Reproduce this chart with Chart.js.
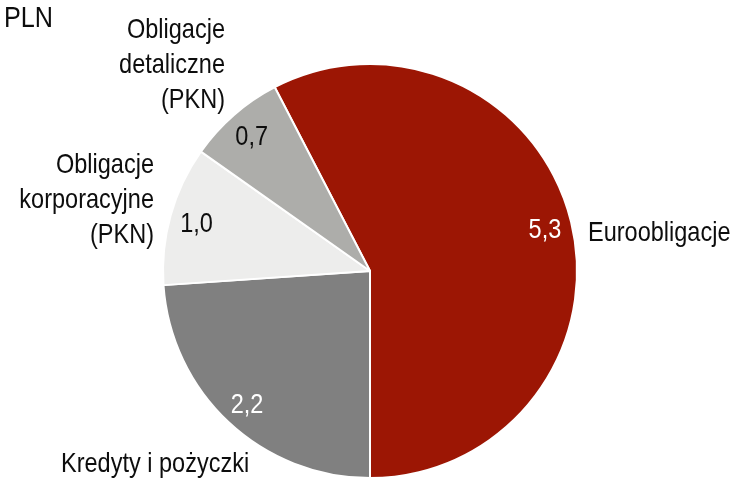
<!DOCTYPE html>
<html>
<head>
<meta charset="utf-8">
<script src="https://cdn.jsdelivr.net/npm/chart.js@4/dist/chart.umd.min.js"></script>
<style>
  html, body { margin: 0; padding: 0; background: #fff; }
  #wrap { width: 736px; height: 484px; }
</style>
</head>
<body>
<div id="wrap"><canvas id="pieDebt"></canvas></div>
<script>
const labels = ['Euroobligacje', 'Kredyty i pożyczki', 'Obligacje korporacyjne (PKN)', 'Obligacje detaliczne (PKN)'];
const values = [5.3, 2.2, 1.0, 0.7];
const valueLabels = ['5,3', '2,2', '1,0', '0,7'];
const colors = ['#9c1604', '#808080', '#ededec', '#adadaa'];
const valueColors = ['#ffffff', '#ffffff', '#0d0d0d', '#0d0d0d'];

let pieDebt = document.getElementById("pieDebt");

// narrow font, like Arial Narrow
function narrowText(ctx, text, x, y, size, align, color) {
  ctx.save();
  ctx.font = size + 'px "Liberation Sans", Arial, sans-serif';
  ctx.fillStyle = color;
  ctx.textBaseline = 'alphabetic';
  const sx = 0.84;
  const w = ctx.measureText(text).width * sx;
  let left = x;
  if (align === 'right') left = x - w;
  if (align === 'center') left = x - w / 2;
  ctx.translate(left, y);
  ctx.scale(sx, 1);
  ctx.textAlign = 'left';
  ctx.fillText(text, 0, 0);
  ctx.restore();
}

// outer label text, offsets from the pie centre
const outerText = [
  { lines: ['Euroobligacje'], dx: 218, dy: -30, align: 'left' },
  { lines: ['Kredyty i pożyczki'], dx: -309, dy: 201, align: 'left' },
  { lines: ['Obligacje', 'korporacyjne', '(PKN)'], dx: -216, dy: -98, align: 'right' },
  { lines: ['Obligacje', 'detaliczne', '(PKN)'], dx: -145, dy: -233, align: 'right' }
];

const pieLabels = {
  id: 'pieLabels',
  afterDatasetsDraw(chart) {
    const ctx = chart.ctx;
    const meta = chart.getDatasetMeta(0);
    meta.data.forEach((arc, i) => {
      const p = arc.getProps(['x', 'y', 'startAngle', 'endAngle', 'outerRadius']);
      const mid = (p.startAngle + p.endAngle) / 2;
      const r = p.outerRadius * 0.87;
      const vx = p.x + Math.cos(mid) * r;
      const vy = p.y + Math.sin(mid) * r;
      narrowText(ctx, valueLabels[i], vx, vy + 10, 28, 'center', valueColors[i]);

      const t = outerText[i];
      t.lines.forEach((line, j) => {
        narrowText(ctx, line, p.x + t.dx, p.y + t.dy + j * 35, 28, t.align, '#0d0d0d');
      });
    });
    narrowText(ctx, 'PLN', 4, 27, 30, 'left', '#0d0d0d');
  }
};

const dataPieDebt = {
  labels: labels,
  datasets: [{
    data: values,
    backgroundColor: colors,
    borderColor: '#ffffff',
    borderWidth: 2,
    hoverOffset: 0
  }]
};

const configPieDebt = {
  type: 'pie',
  data: dataPieDebt,
  options: {
    responsive: true,
    maintainAspectRatio: false,
    animation: false,
    rotation: -(values[0] / values.reduce((a, b) => a + b, 0) * 360 - 180),
    layout: {
      padding: { top: 63, bottom: 5, left: 162, right: 158 }
    },
    plugins: {
      legend: { display: false },
      tooltip: { enabled: false }
    }
  },
  plugins: [pieLabels]
};

let pieDebtGraph = new Chart(pieDebt, configPieDebt);
</script>
</body>
</html>
